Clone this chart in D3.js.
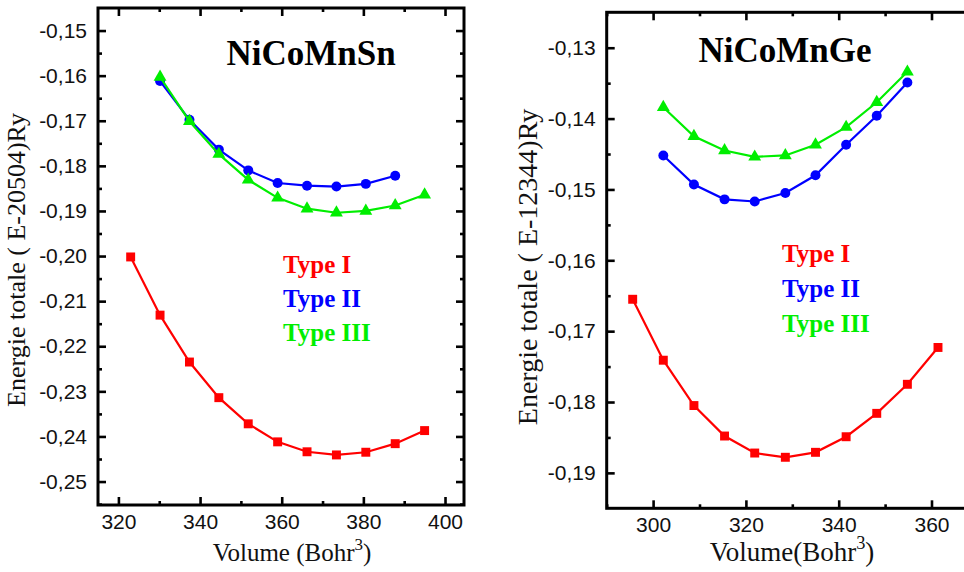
<!DOCTYPE html>
<html>
<head>
<meta charset="utf-8">
<script src="https://cdn.jsdelivr.net/npm/d3@7"></script>
<style>
  html, body { margin: 0; padding: 0; background: #fff; }
  svg { display: block; }
</style>
</head>
<body>
<svg id="chart" width="964" height="572"></svg>
<script>
// ---------- DATA ----------
// NiCoMnSn panel
const volumeSn = [323.0, 330.2, 337.4, 344.6, 351.8, 359.0, 366.2, 373.4, 380.6, 387.8, 395.0];
const snTypeI   = [-0.2002, -0.2131, -0.2235, -0.2314, -0.2372, -0.2412, -0.2434, -0.2441, -0.2435, -0.2416, -0.2387];
const snTypeII  = [null, -0.1612, -0.1698, -0.1764, -0.1810, -0.1838, -0.1844, -0.1846, -0.1840, -0.1822, null];
const snTypeIII = [null, -0.1603, -0.1701, -0.1774, -0.1831, -0.1871, -0.1895, -0.1904, -0.1900, -0.1888, -0.1864];
const snXTicks = [320, 340, 360, 380, 400];
const snYTicks = [-0.15, -0.16, -0.17, -0.18, -0.19, -0.20, -0.21, -0.22, -0.23, -0.24, -0.25];

// NiCoMnGe panel
const volumeGe = [295.6, 302.2, 308.8, 315.4, 321.9, 328.5, 335.0, 341.6, 348.2, 354.8, 361.4];
const geTypeI   = [-0.1655, -0.1741, -0.1805, -0.1848, -0.1872, -0.1878, -0.1871, -0.1849, -0.1816, -0.1775, -0.1723];
const geTypeII  = [null, -0.1452, -0.1493, -0.1514, -0.1517, -0.1505, -0.1480, -0.1437, -0.1396, -0.1349, null];
const geTypeIII = [null, -0.1384, -0.1425, -0.1445, -0.1454, -0.1452, -0.1437, -0.1412, -0.1377, -0.1334, null];
const geXTicks = [300, 320, 340, 360];
const geYTicks = [-0.13, -0.14, -0.15, -0.16, -0.17, -0.18, -0.19];

const seriesNames = ["Type I", "Type II", "Type III"];
const seriesColors = ["#ff0000", "#0000ff", "#00ee00"];
const seriesSymbols = [d3.symbolSquare, d3.symbolCircle, d3.symbolTriangle];
const seriesSizes = [80, 78, 72];

// ---------- DRAWING ----------
const svg = d3.select("#chart");
const loc = d3.formatLocale({decimal: ",", thousands: ".", grouping: [3], currency: ["", ""], minus: "-"});
const fmtY = loc.format(".2f");
const fmtX = loc.format("d");

const SERIF = "'Liberation Serif','Times New Roman',Times,serif";
const SANS = "'Liberation Sans',Arial,Helvetica,sans-serif";

function panel(cfg) {
  const g = svg.append("g");
  const x = d3.scaleLinear().domain(cfg.xDomain).range(cfg.xRange);
  const y = d3.scaleLinear().domain(cfg.yDomain).range(cfg.yRange);
  const [x0, x1] = cfg.xRange;
  const yBottom = cfg.yRange[0], yTop = cfg.yRange[1];

  const minorX = d3.range(Math.ceil(cfg.xDomain[0] / 10) * 10, cfg.xDomain[1], 10)
    .filter(v => !cfg.xTicks.includes(v));
  const minorY = cfg.yTicks.map(v => v + 0.005).concat([cfg.yTicks[cfg.yTicks.length - 1] - 0.005])
    .filter(v => v > cfg.yDomain[0] && v < cfg.yDomain[1]);

  function styleAxis(sel) {
    sel.select(".domain").remove();
    sel.selectAll(".tick line").attr("stroke", "#000").attr("stroke-width", 2.6);
    sel.selectAll("text").attr("font-family", SANS).attr("font-size", 21).attr("fill", "#111");
  }
  // bottom
  g.append("g").attr("transform", `translate(0,${yBottom})`)
    .call(d3.axisBottom(x).tickValues(cfg.xTicks).tickFormat(fmtX).tickSizeInner(-8).tickSizeOuter(0).tickPadding(9))
    .call(styleAxis);
  g.append("g").attr("transform", `translate(0,${yBottom})`)
    .call(d3.axisBottom(x).tickValues(minorX).tickFormat("").tickSizeInner(-4).tickSizeOuter(0))
    .call(styleAxis);
  // top
  g.append("g").attr("transform", `translate(0,${yTop})`)
    .call(d3.axisTop(x).tickValues(cfg.xTicks).tickFormat("").tickSizeInner(-8).tickSizeOuter(0))
    .call(styleAxis);
  g.append("g").attr("transform", `translate(0,${yTop})`)
    .call(d3.axisTop(x).tickValues(minorX).tickFormat("").tickSizeInner(-4).tickSizeOuter(0))
    .call(styleAxis);
  // left
  g.append("g").attr("transform", `translate(${x0},0)`)
    .call(d3.axisLeft(y).tickValues(cfg.yTicks).tickFormat(fmtY).tickSizeInner(-8).tickSizeOuter(0).tickPadding(11))
    .call(styleAxis);
  g.append("g").attr("transform", `translate(${x0},0)`)
    .call(d3.axisLeft(y).tickValues(minorY).tickFormat("").tickSizeInner(-4).tickSizeOuter(0))
    .call(styleAxis);
  // right
  g.append("g").attr("transform", `translate(${x1},0)`)
    .call(d3.axisRight(y).tickValues(cfg.yTicks).tickFormat("").tickSizeInner(-8).tickSizeOuter(0))
    .call(styleAxis);
  g.append("g").attr("transform", `translate(${x1},0)`)
    .call(d3.axisRight(y).tickValues(minorY).tickFormat("").tickSizeInner(-4).tickSizeOuter(0))
    .call(styleAxis);

  // frame
  g.append("rect").attr("x", x0).attr("y", yTop).attr("width", x1 - x0).attr("height", yBottom - yTop)
    .attr("fill", "none").attr("stroke", "#000").attr("stroke-width", 3);

  // series
  cfg.series.forEach((vals, i) => {
    const pts = cfg.vol.map((v, j) => [v, vals[j]]).filter(p => p[1] !== null);
    g.append("path").datum(pts)
      .attr("fill", "none").attr("stroke", seriesColors[i]).attr("stroke-width", 2.2)
      .attr("d", d3.line().x(p => x(p[0])).y(p => y(p[1])));
    g.selectAll(null).data(pts).enter().append("path")
      .attr("transform", p => `translate(${x(p[0])},${y(p[1])})`)
      .attr("d", d3.symbol().type(seriesSymbols[i]).size(seriesSizes[i]))
      .attr("fill", seriesColors[i]);
  });

  // title
  g.append("text").attr("x", cfg.title.x).attr("y", cfg.title.y).attr("text-anchor", "middle")
    .attr("font-family", SERIF).attr("font-weight", "bold").attr("font-size", 35).text(cfg.title.text);

  // legend
  seriesNames.forEach((n, i) => {
    g.append("text").attr("x", cfg.legend.x).attr("y", cfg.legend.y[i])
      .attr("font-family", SERIF).attr("font-weight", "bold").attr("font-size", 25)
      .attr("fill", seriesColors[i]).text(n);
  });

  // y label
  g.append("text").attr("transform", `translate(${cfg.yLabel.x},${cfg.yLabel.y}) rotate(-90)`)
    .attr("text-anchor", "middle").attr("font-family", SERIF).attr("font-size", cfg.yLabel.size)
    .attr("fill", "#111").text(cfg.yLabel.text);

  // x label
  const xl = g.append("text").attr("x", cfg.xLabel.x).attr("y", cfg.xLabel.y).attr("text-anchor", "middle")
    .attr("font-family", SERIF).attr("font-size", cfg.xLabel.size).attr("fill", "#111");
  xl.append("tspan").text(cfg.xLabel.text);
  xl.append("tspan").attr("font-size", cfg.xLabel.size * 0.68).attr("dy", -cfg.xLabel.size * 0.45).text("3");
  xl.append("tspan").attr("dy", cfg.xLabel.size * 0.45).text(")");
}

panel({
  xDomain: [315, 404.65], xRange: [98, 464],
  yDomain: [-0.2552, -0.145], yRange: [505, 8],
  xTicks: snXTicks, yTicks: snYTicks,
  vol: volumeSn, series: [snTypeI, snTypeII, snTypeIII],
  title: {text: "NiCoMnSn", x: 311, y: 65},
  legend: {x: 283, y: [273, 307, 341]},
  yLabel: {text: "Energie totale ( E-20504)Ry", x: 25, y: 260, size: 26},
  xLabel: {text: "Volume (Bohr", x: 292, y: 561, size: 25}
});

panel({
  xDomain: [290, 370], xRange: [606.7, 977.9],
  yDomain: [-0.195, -0.125], yRange: [508.3, 12.3],
  xTicks: geXTicks, yTicks: geYTicks,
  vol: volumeGe, series: [geTypeI, geTypeII, geTypeIII],
  title: {text: "NiCoMnGe", x: 785, y: 62},
  legend: {x: 782, y: [262, 297, 332]},
  yLabel: {text: "Energie totale ( E-12344)Ry", x: 537, y: 267, size: 28},
  xLabel: {text: "Volume(Bohr", x: 792, y: 561, size: 27}
});
</script>
</body>
</html>
